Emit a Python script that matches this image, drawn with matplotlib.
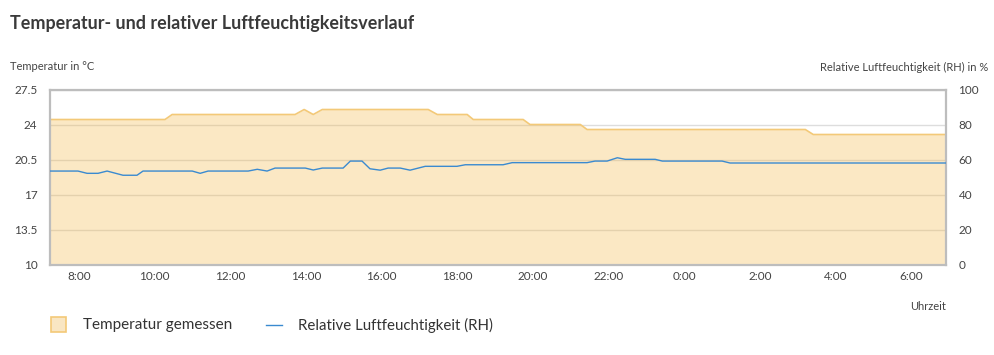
import matplotlib
matplotlib.use('Agg')
import matplotlib.pyplot as plt
from matplotlib.patches import Rectangle
from matplotlib.lines import Line2D

# Temperatur (Stunden seit Mitternacht des ersten Tages, Grad C)
temp_hours = [7.23, 10.27, 10.46, 13.71, 13.95, 14.19, 14.43, 17.23, 17.47, 18.26,
              18.42, 19.74, 19.92, 21.25, 21.43, 27.20, 27.41, 30.92]
temp_values = [24.5, 24.5, 25.0, 25.0, 25.5, 25.0, 25.5, 25.5, 25.0, 25.0,
               24.5, 24.5, 24.0, 24.0, 23.5, 23.5, 23.0, 23.0]

# Relative Luftfeuchtigkeit in %
rh_hours = [7.23, 7.97, 8.21, 8.50, 8.74, 9.16, 9.53, 9.69, 10.99, 11.20, 11.41,
            12.47, 12.71, 12.97, 13.18, 13.98, 14.19, 14.43, 14.98, 15.17, 15.48,
            15.69, 15.96, 16.17, 16.49, 16.75, 17.15, 17.99, 18.21, 19.21, 19.45,
            21.43, 21.64, 21.96, 22.23, 22.44, 23.23, 23.42, 25.00, 25.21, 30.92]
rh_values = [53.4, 53.4, 52.1, 52.1, 53.4, 51.0, 51.0, 53.4, 53.4, 52.1, 53.4,
             53.4, 54.4, 53.4, 55.1, 55.1, 54.0, 55.1, 55.1, 59.1, 59.1,
             54.7, 53.9, 55.1, 55.1, 53.9, 56.1, 56.1, 57.0, 57.0, 58.2,
             58.2, 59.1, 59.1, 61.0, 60.1, 60.1, 59.1, 59.1, 58.0, 58.0]

x_ticks = [8, 10, 12, 14, 16, 18, 20, 22, 24, 26, 28, 30]
x_labels = ['%d:00' % (h % 24) for h in x_ticks]
temp_ticks = [10, 13.5, 17, 20.5, 24, 27.5]
temp_labels = ['10', '13.5', '17', '20.5', '24', '27.5']
rh_ticks = [0, 20, 40, 60, 80, 100]

plt.rcParams['font.family'] = ['Lato', 'DejaVu Sans']
txt = '#444444'
W, H = 994, 355

fig = plt.figure(figsize=(9.94, 3.55), dpi=100)
ax = fig.add_axes([50 / W, 90.5 / H, 896 / W, 175 / H])

ax.set_xlim(7.23, 30.92)
ax.set_ylim(10, 27.5)
ax.set_yticks(temp_ticks)
ax.set_yticklabels(temp_labels)
ax.set_xticks(x_ticks)
ax.set_xticklabels(x_labels)
ax.tick_params(length=0, labelsize=8.5, colors=txt)
ax.tick_params(axis='y', pad=9)
ax.tick_params(axis='x', pad=5)
ax.grid(axis='y', color='#dddddd', linewidth=1)
ax.set_axisbelow(True)
for s in ax.spines.values():
    s.set_color('#bdbdbd')
    s.set_linewidth(1.6)

ax.fill_between(temp_hours, 10, temp_values, color='#f3b94a', alpha=0.32, linewidth=0)
ax.plot(temp_hours, temp_values, color='#f3c978', linewidth=1.2)

ax2 = ax.twinx()
ax2.set_ylim(0, 100)
ax2.set_yticks(rh_ticks)
ax2.tick_params(length=0, labelsize=8.5, colors=txt, pad=9)
for s in ax2.spines.values():
    s.set_visible(False)
ax2.plot(rh_hours, rh_values, color='#3a8ad0', linewidth=1)

fig.text(10 / W, 1 - 24 / H, 'Temperatur- und relativer Luftfeuchtigkeitsverlauf',
         fontsize=12.9, fontweight='bold', color='#3a3a3a', va='center', ha='left')
fig.text(10 / W, 1 - 67 / H, 'Temperatur in °C', fontsize=8, color=txt, va='center')
fig.text(988 / W, 1 - 67 / H, 'Relative Luftfeuchtigkeit (RH) in %', fontsize=8,
         color=txt, va='center', ha='right')
fig.text(946 / W, 1 - 306 / H, 'Uhrzeit', fontsize=8, color=txt, va='center', ha='right')

# Legende von Hand gesetzt
fig.patches.append(Rectangle((50.5 / W, 1 - 332 / H), 15 / W, 15 / H, transform=fig.transFigure,
                             facecolor='#f9e6c3', edgecolor='#f3c978', linewidth=1.2))
fig.text(83 / W, 1 - 325 / H, 'Temperatur gemessen', fontsize=11, color='#333333', va='center')
fig.lines.append(Line2D([266 / W, 282 / W], [1 - 325 / H, 1 - 325 / H], transform=fig.transFigure,
                        color='#3a8ad0', linewidth=1))
fig.text(298 / W, 1 - 325 / H, 'Relative Luftfeuchtigkeit (RH)', fontsize=10.8,
         color='#333333', va='center')

fig.savefig('out.png', dpi=100)
